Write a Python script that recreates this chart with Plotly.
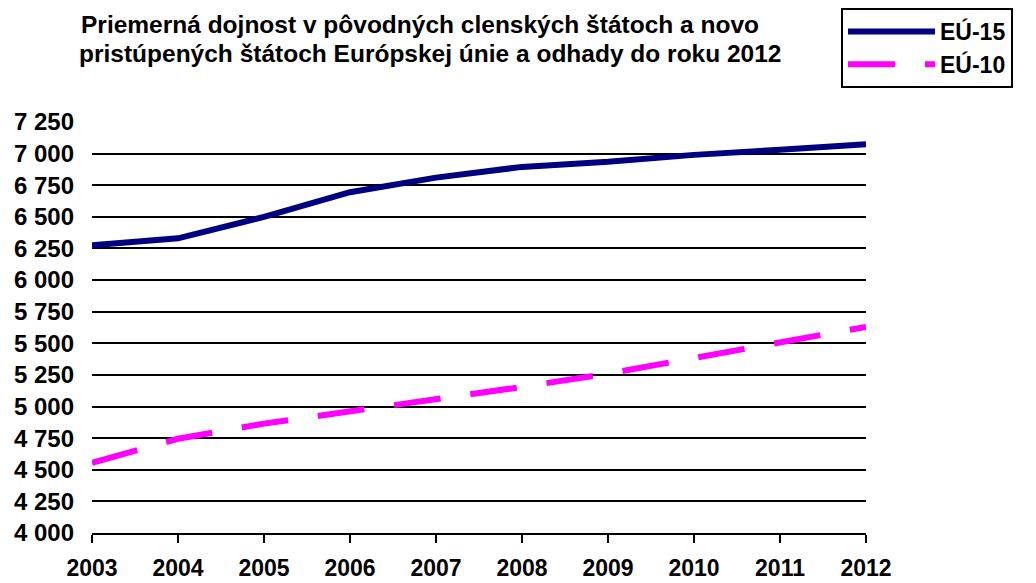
import plotly.graph_objects as go

# data
years = [2003, 2004, 2005, 2006, 2007, 2008, 2009, 2010, 2011, 2012]
eu15 = [6275, 6330, 6500, 6695, 6810, 6895, 6935, 6990, 7030, 7075]
eu10 = [4555, 4745, 4865, 4960, 5050, 5155, 5260, 5380, 5500, 5630]

y_ticks = [4000, 4250, 4500, 4750, 5000, 5250, 5500, 5750, 6000, 6250, 6500, 6750, 7000, 7250]
y_labels = [f"{v:,}".replace(",", " ") for v in y_ticks]

title_lines = [
    "Priemerná dojnost v pôvodných clenských štátoch a novo",
    "pristúpených štátoch Európskej únie a odhady do roku 2012",
]

FONT = "Liberation Sans, Arial, sans-serif"
# the page body has an 8px margin, so the figure is a bit smaller than the window
OFF = 8
W, H = 1036 - OFF, 583 - OFF
L, R, T, B = 92 - OFF, 170, 122 - OFF, 50
pw, ph = W - L - R, H - T - B


# window pixel -> paper coordinate
def px_x(px):
    return (px - OFF - L) / pw


def px_y(py):
    return (H - B - (py - OFF)) / ph


fig = go.Figure()

fig.add_trace(go.Scatter(x=years, y=eu15, mode='lines', name='EÚ-15',
                         line=dict(color='#000080', width=6)))
fig.add_trace(go.Scatter(x=years, y=eu10, mode='lines', name='EÚ-10',
                         line=dict(color='#FF00FF', width=6, dash='47px,30px')))

# title as two centred lines, set tight like the original
for txt, cx, cy in zip(title_lines, [420, 430], [25, 53.5]):
    fig.add_annotation(text=txt, xref='paper', yref='paper',
                       x=px_x(cx), y=px_y(cy), xanchor='center', yanchor='middle',
                       showarrow=False,
                       font=dict(family=FONT, size=24.5, color='black', weight='bold'))

fig.update_layout(
    width=W, height=H,
    margin=dict(l=L, r=R, t=T, b=B, autoexpand=False),
    plot_bgcolor='white',
    paper_bgcolor='white',
    font=dict(family=FONT, size=24, color='black', weight='bold'),
    showlegend=True,
    legend=dict(xref='container', yref='container',
                x=(841 - OFF) / W, xanchor='left', y=1, yanchor='top',
                bordercolor='black', borderwidth=2, bgcolor='white',
                font=dict(family=FONT, size=23, color='black', weight='bold'),
                itemwidth=87, tracegroupgap=0),
)

fig.update_xaxes(range=[2003, 2012], tickvals=years, ticktext=[str(y) for y in years],
                 showgrid=False, zeroline=False, automargin=False,
                 showline=True, linecolor='black', linewidth=2,
                 ticks='outside', ticklen=8, tickwidth=2, tickcolor='black',
                 tickfont=dict(size=23), ticklabelstandoff=5)
fig.update_yaxes(range=[4000, 7250], tickvals=y_ticks, ticktext=y_labels,
                 showgrid=True, gridcolor='black', gridwidth=2,
                 zeroline=False, showline=False, ticks='', automargin=False,
                 ticklabelstandoff=17)

fig.write_html("out.html")
